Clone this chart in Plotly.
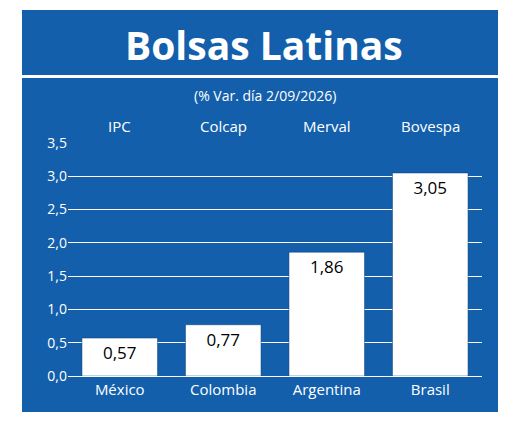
import plotly.graph_objects as go

indices = ["IPC", "Colcap", "Merval", "Bovespa"]
countries = ["México", "Colombia", "Argentina", "Brasil"]
values = [0.57, 0.77, 1.86, 3.05]
value_labels = ["0,57", "0,77", "1,86", "3,05"]
ytick_vals = [0, 0.5, 1.0, 1.5, 2.0, 2.5, 3.0, 3.5]
ytick_text = ["0,0", "0,5", "1,0", "1,5", "2,0", "2,5", "3,0", "3,5"]

W, H = 520, 431
OFF = 8  # page body margin
BLUE = "#135fab"
FONT = "Open Sans"

L, R, T, B = 68 - OFF, 38 + OFF, 143 - OFF, 55 + OFF
pw, ph = W - L - R, H - T - B
def fx(x): return (x - OFF - L) / pw
def fy(y): return (H - B - (y - OFF)) / ph

fig = go.Figure(go.Bar(
    x=countries, y=values, width=0.73,
    marker=dict(color="white", line=dict(color="#0b3d73", width=0.5)),
    text=value_labels, textposition="inside", insidetextanchor="end",
    textfont=dict(color="black", size=17, family=FONT),
    cliponaxis=False,
))

shapes = [
    dict(type="rect", xref="paper", yref="paper", x0=fx(22), x1=fx(498), y0=fy(412), y1=fy(10),
         fillcolor=BLUE, line=dict(width=0), layer="below"),
    dict(type="rect", xref="paper", yref="paper", x0=fx(22), x1=fx(498), y0=fy(78), y1=fy(75),
         fillcolor="white", line=dict(width=0), layer="below"),
]
annotations = [
    dict(text="<b>Bolsas Latinas</b>", xref="paper", yref="paper", x=fx(264), y=fy(44),
         yanchor="middle", showarrow=False, font=dict(color="white", size=39, family=FONT)),
    dict(text="(% Var. día 2/09/2026)", xref="paper", yref="paper", x=fx(265), y=fy(95),
         yanchor="middle", showarrow=False, font=dict(color="white", size=14, family=FONT)),
]
for c, n in zip(countries, indices):
    annotations.append(dict(text=n, xref="x", yref="paper", x=c, y=fy(126), yanchor="middle",
                            showarrow=False, font=dict(color="white", size=15, family=FONT)))

fig.update_layout(
    width=W, height=H, margin=dict(l=L, r=R, t=T, b=B),
    paper_bgcolor="white", plot_bgcolor=BLUE, bargap=0.27,
    shapes=shapes, annotations=annotations, showlegend=False,
    xaxis=dict(tickfont=dict(color="white", size=15, family=FONT), showgrid=False,
               showline=True, linecolor="white", linewidth=1, ticks=""),
    yaxis=dict(range=[0, 3.5], tickvals=ytick_vals, ticktext=ytick_text,
               tickfont=dict(color="white", size=14, family=FONT),
               gridcolor="white", gridwidth=1, zeroline=False, showline=False),
)
fig.write_html("out.html")
